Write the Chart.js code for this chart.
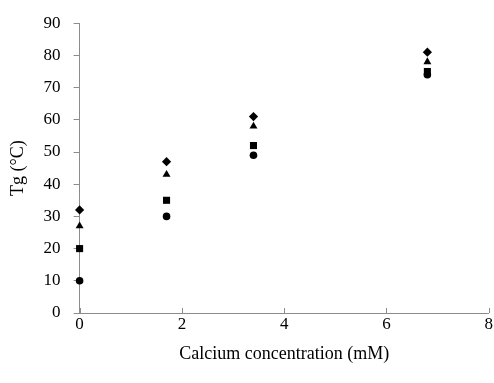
<!DOCTYPE html>
<html>
<head>
<meta charset="utf-8">
<script src="https://cdn.jsdelivr.net/npm/chart.js@4"></script>
<style>
  html, body { margin: 0; padding: 0; background: #fff; }
  #wrap { width: 494px; height: 383px; }
</style>
</head>
<body>
<div id="wrap"><canvas id="tg-chart" width="494" height="383"></canvas></div>
<script>
var calcium = [0, 1.7, 3.4, 6.8];
var seriesDiamond = [32, 47, 61, 81];
var seriesTriangle = [27, 43, 58, 78];
var seriesSquare = [20, 35, 52, 75];
var seriesCircle = [10, 30, 49, 74];
var xTitle = 'Calcium concentration (mM)';
var yTitle = 'Tg (°C)';

function toPoints(values) {
  return values.map(function (v, i) { return { x: calcium[i], y: v }; });
}

function makeSet(label, values, style, radius) {
  return {
    label: label,
    data: toPoints(values),
    pointStyle: style,
    pointRadius: radius,
    pointBackgroundColor: '#000',
    pointBorderColor: '#000',
    pointBorderWidth: 0,
    showLine: false,
    clip: false
  };
}

var axisGrey = '#8c8c8c';
var serif = 'Liberation Serif, Times New Roman, serif';

// x-axis ticks point up into the plot, as in the original
var innerTicks = {
  id: 'innerTicks',
  beforeDatasetsDraw: function (chart) {
    var ctx = chart.ctx;
    var xs = chart.scales.x;
    var bottom = chart.chartArea.bottom;
    ctx.save();
    ctx.strokeStyle = axisGrey;
    ctx.lineWidth = 1;
    xs.ticks.forEach(function (t) {
      var px = Math.round(xs.getPixelForValue(t.value)) + 0.5;
      ctx.beginPath();
      ctx.moveTo(px, bottom);
      ctx.lineTo(px, bottom - 5);
      ctx.stroke();
    });
    ctx.restore();
  }
};

new Chart(document.getElementById('tg-chart'), {
  type: 'scatter',
  data: {
    datasets: [
      makeSet('A', seriesDiamond, 'rectRot', 4.6),
      makeSet('B', seriesTriangle, 'triangle', 4.6),
      makeSet('C', seriesSquare, 'rect', 5),
      makeSet('D', seriesCircle, 'circle', 3.8)
    ]
  },
  options: {
    responsive: false,
    animation: false,
    layout: { padding: { top: 17, right: 0, left: 3, bottom: 14 } },
    plugins: {
      legend: { display: false },
      tooltip: { enabled: false }
    },
    scales: {
      x: {
        type: 'linear',
        min: 0,
        max: 8,
        ticks: { stepSize: 2, color: '#000', padding: 1, font: { family: serif, size: 17 } },
        grid: { display: false, drawTicks: false },
        border: { display: true, color: axisGrey, width: 1 },
        title: { display: true, text: xTitle, color: '#000', padding: { top: 8, bottom: 4 }, font: { family: serif, size: 18 } }
      },
      y: {
        min: 0,
        max: 90,
        ticks: { stepSize: 10, color: '#000', padding: 13, font: { family: serif, size: 17 } },
        grid: { drawOnChartArea: false, drawTicks: true, tickLength: 6, color: axisGrey },
        border: { display: true, color: axisGrey, width: 1 },
        title: { display: true, text: yTitle, color: '#000', padding: { top: 4, bottom: 2 }, font: { family: serif, size: 18 } }
      }
    }
  },
  plugins: [innerTicks]
});
</script>
</body>
</html>
